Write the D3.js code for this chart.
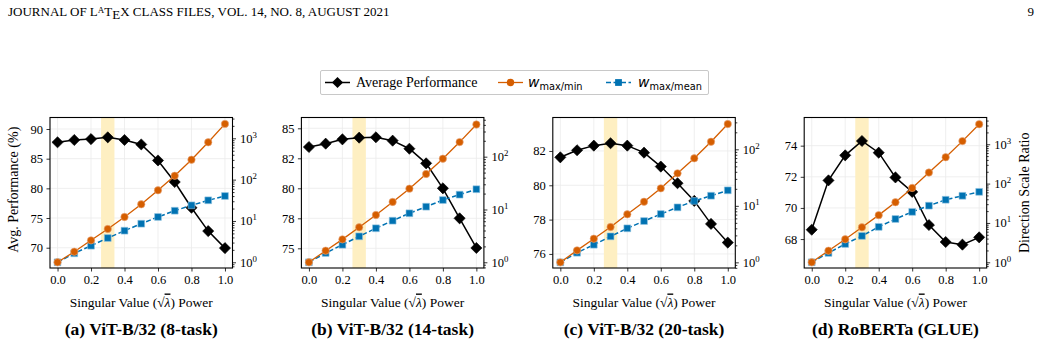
<!DOCTYPE html>
<html>
<head>
<meta charset="utf-8">
<script src="https://cdn.jsdelivr.net/npm/d3@7"></script>
<style>
  body { margin: 0; background: #fff; }
  svg { display: block; }
  text { font-family: "Liberation Serif", "Times New Roman", serif; fill: #000; }
</style>
</head>
<body>
<svg id="fig" width="1041" height="349"></svg>
<script>
// singular value power (x)
const powers = [0, 0.1, 0.2, 0.3, 0.4, 0.5, 0.6, 0.7, 0.8, 0.9, 1.0];
const xTicks = [0, 0.2, 0.4, 0.6, 0.8, 1.0];

// (a) ViT-B/32 8-task
const perf8 = [87.76, 88.15, 88.30, 88.60, 88.15, 87.40, 84.70, 81.07, 76.74, 72.80, 69.93];
const ratioMin8 = [1, 1.80, 3.40, 6.40, 12.5, 25.3, 55.2, 124, 303, 800, 2230];
const ratioMean8 = [1, 1.65, 2.52, 3.87, 5.82, 8.59, 12.5, 17.7, 23.9, 31.6, 40.2];

// (b) ViT-B/32 14-task
const perf14 = [83.44, 83.72, 84.08, 84.22, 84.25, 83.97, 83.30, 82.08, 80.00, 77.50, 75.03];
const ratioMin14 = [1, 1.66, 2.72, 4.60, 7.87, 13.9, 24.8, 47.0, 91.6, 189, 407];
const ratioMean14 = [1, 1.50, 2.15, 3.10, 4.41, 6.14, 8.47, 11.3, 15.1, 19.1, 24.2];

// (c) ViT-B/32 20-task
const perf20 = [81.63, 82.04, 82.31, 82.45, 82.31, 81.90, 81.09, 80.12, 79.09, 77.75, 76.66];
const ratioMin20 = [1, 1.63, 2.62, 4.22, 7.08, 11.8, 20.4, 37.6, 69.3, 136, 280];
const ratioMean20 = [1, 1.48, 2.05, 2.88, 4.00, 5.38, 7.16, 9.40, 12.2, 15.1, 18.8];

// (d) RoBERTa GLUE
const perfGlue = [68.60, 71.77, 73.38, 74.30, 73.55, 71.96, 71.03, 68.90, 67.81, 67.64, 68.11];
const ratioMinGlue = [1, 1.97, 3.85, 7.76, 15.8, 33.6, 77.6, 191, 468, 1202, 3236];
const ratioMeanGlue = [1, 1.73, 2.92, 4.68, 7.94, 12.6, 19.1, 27.5, 38.9, 49.0, 61.7];

// left axis ticks
const perfTicks8 = [70, 75, 80, 85, 90];
const perfTicks14 = [75, 77.5, 80, 82.5, 85];
const perfTickLabels14 = ["75", "78", "80", "82", "85"];
const perfTicks20 = [76, 78, 80, 82];
const perfTicksGlue = [68, 70, 72, 74];
// right axis decades (10^n)
const ratioDecades4 = [0, 1, 2, 3];
const ratioDecades3 = [0, 1, 2];

const titles = ["(a) ViT-B/32 (8-task)", "(b) ViT-B/32 (14-task)", "(c) ViT-B/32 (20-task)", "(d) RoBERTa (GLUE)"];

const panels = [
    {perf: perf8, rmin: ratioMin8, rmean: ratioMean8, ticks: perfTicks8, labels: perfTicks8.map(String),
     yDom: [66.58, 91.94], rDom: [-0.138, 3.503], decades: ratioDecades4},
    {perf: perf14, rmin: ratioMin14, rmean: ratioMean14, ticks: perfTicks14, labels: perfTickLabels14,
     yDom: [73.36, 85.9], rDom: [-0.108, 2.742], decades: ratioDecades3},
    {perf: perf20, rmin: ratioMin20, rmean: ratioMean20, ticks: perfTicks20, labels: perfTicks20.map(String),
     yDom: [75.18, 83.95], rDom: [-0.1, 2.563], decades: ratioDecades3},
    {perf: perfGlue, rmin: ratioMinGlue, rmean: ratioMeanGlue, ticks: perfTicksGlue, labels: perfTicksGlue.map(String),
     yDom: [66.14, 75.81], rDom: [-0.145, 3.68], decades: ratioDecades4}
];

const ORANGE = "#d55e00", BLUE = "#0072b2", BAND = "#feefc2", GRID = "#ebebeb";
const svg = d3.select("#fig");
const axTop = 117.5, axBottom = 268, axW = 182.5;

// ---- page header ----
let hdr = svg.append("text").attr("x", 8).attr("y", 16).style("font-size", "13px");
hdr.append("tspan").text("JOURNAL OF L");
hdr.append("tspan").attr("dy", "-3").style("font-size", "9px").text("A");
hdr.append("tspan").attr("dy", "3").text("T");
hdr.append("tspan").attr("dy", "3").text("E");
hdr.append("tspan").attr("dy", "-3").text("X CLASS FILES, VOL. 14, NO. 8, AUGUST 2021");
svg.append("text").attr("x", 1034).attr("y", 16).attr("text-anchor", "end").style("font-size", "13px").text("9");

// ---- panels ----
panels.forEach(function (p, i) {
    let left = 50 + i * 251.4;
    let g = svg.append("g");

    let x = d3.scaleLinear().domain([-0.045, 1.045]).range([left, left + axW]);
    let y = d3.scaleLinear().domain(p.yDom).range([axBottom, axTop]);
    let yR = d3.scaleLog().domain([Math.pow(10, p.rDom[0]), Math.pow(10, p.rDom[1])]).range([axBottom, axTop]);

    // grid
    g.append("g").selectAll("line").data(xTicks).enter().append("line")
        .attr("x1", d => x(d)).attr("x2", d => x(d)).attr("y1", axTop).attr("y2", axBottom)
        .attr("stroke", GRID).attr("stroke-width", 0.8);
    g.append("g").selectAll("line").data(p.ticks).enter().append("line")
        .attr("x1", left).attr("x2", left + axW).attr("y1", d => y(d)).attr("y2", d => y(d))
        .attr("stroke", GRID).attr("stroke-width", 0.8);

    // highlighted band
    g.append("rect").attr("x", x(0.26)).attr("width", x(0.34) - x(0.26))
        .attr("y", axTop).attr("height", axBottom - axTop).attr("fill", BAND);

    // x axis
    let xa = g.append("g").attr("transform", "translate(0," + axBottom + ")")
        .call(d3.axisBottom(x).tickValues(xTicks).tickFormat(d3.format(".1f")).tickSize(3.5).tickPadding(3.5));
    xa.attr("font-family", null).selectAll("text").style("font-size", "12.5px");

    // left axis
    let ya = g.append("g").attr("transform", "translate(" + left + ",0)")
        .call(d3.axisLeft(y).tickValues(p.ticks).tickFormat((d, j) => p.labels[j]).tickSize(3.5).tickPadding(3.5));
    ya.attr("font-family", null).selectAll("text").style("font-size", "12.5px");

    // right log axis: minor + major ticks
    let minors = [];
    for (let k = Math.floor(p.rDom[0]); k <= Math.ceil(p.rDom[1]); k++) {
        for (let m = 2; m <= 9; m++) {
            let v = m * Math.pow(10, k);
            if (Math.log10(v) > p.rDom[0] && Math.log10(v) < p.rDom[1]) minors.push(v);
        }
    }
    g.append("g").attr("transform", "translate(" + (left + axW) + ",0)")
        .call(d3.axisRight(yR).tickValues(minors).tickFormat("").tickSize(2));
    g.append("g").attr("transform", "translate(" + (left + axW) + ",0)")
        .call(d3.axisRight(yR).tickValues(p.decades.map(d => Math.pow(10, d))).tickFormat("").tickSize(3.5));
    let rl = g.append("g").selectAll("text").data(p.decades).enter().append("text")
        .attr("x", left + axW + 7.5).attr("y", d => yR(Math.pow(10, d)) + 4.5)
        .style("font-size", "12.5px");
    rl.append("tspan").text("10");
    rl.append("tspan").attr("dy", -5).style("font-size", "8.8px").text(d => d);

    g.selectAll(".domain").remove();
    g.selectAll(".tick line").attr("stroke", "#000").attr("stroke-width", 0.8);

    // lines
    let linePerf = d3.line().x((d, j) => x(powers[j])).y(d => y(d));
    let lineR = d3.line().x((d, j) => x(powers[j])).y(d => yR(d));

    g.append("path").attr("d", linePerf(p.perf)).attr("fill", "none").attr("stroke", "#000").attr("stroke-width", 1.5);
    g.append("g").selectAll("path").data(p.perf).enter().append("path")
        .attr("d", d3.symbol(d3.symbolSquare, 62)())
        .attr("transform", (d, j) => "translate(" + x(powers[j]) + "," + y(d) + ") rotate(45)")
        .attr("fill", "#000").attr("stroke", "#000").attr("stroke-width", 0.6);

    g.append("path").attr("d", lineR(p.rmean)).attr("fill", "none").attr("stroke", BLUE)
        .attr("stroke-width", 1.5).attr("stroke-dasharray", "5,2.5");
    g.append("g").selectAll("path").data(p.rmean).enter().append("path")
        .attr("d", d3.symbol(d3.symbolSquare, 46)())
        .attr("transform", (d, j) => "translate(" + x(powers[j]) + "," + yR(d) + ")")
        .attr("fill", BLUE).attr("stroke", "#8fc3e0").attr("stroke-width", 0.6);

    g.append("path").attr("d", lineR(p.rmin)).attr("fill", "none").attr("stroke", ORANGE).attr("stroke-width", 1.3);
    g.append("g").selectAll("circle").data(p.rmin).enter().append("circle")
        .attr("cx", (d, j) => x(powers[j])).attr("cy", d => yR(d)).attr("r", 3.7)
        .attr("fill", ORANGE).attr("stroke", "#eaa97f").attr("stroke-width", 0.6);

    // frame
    g.append("rect").attr("x", left).attr("y", axTop).attr("width", axW).attr("height", axBottom - axTop)
        .attr("fill", "none").attr("stroke", "#000").attr("stroke-width", 1.1);

    // x label
    let cx = left + axW / 2;
    let xl = g.append("text").attr("x", cx).attr("y", 306.5).attr("text-anchor", "middle").style("font-size", "13.5px");
    xl.append("tspan").text("Singular Value (\u221A");
    xl.append("tspan").style("font-style", "italic").style("text-decoration", "overline").text("\u03BB");
    xl.append("tspan").text(") Power");

    // panel title
    g.append("text").attr("x", cx).attr("y", 335).attr("text-anchor", "middle")
        .style("font-size", "17.5px").style("font-weight", "bold").text(titles[i]);

    if (i === 0) {
        g.append("text").attr("transform", "translate(18," + ((axTop + axBottom) / 2 - 3) + ") rotate(-90)")
            .attr("text-anchor", "middle").style("font-size", "14px").text("Avg. Performance (%)");
    }
    if (i === 3) {
        g.append("text").attr("transform", "translate(" + (left + axW + 42) + "," + ((axTop + axBottom) / 2) + ") rotate(-90)")
            .attr("text-anchor", "middle").style("font-size", "14px").text("Direction Scale Ratio");
    }
});

// ---- legend ----
let lg = svg.append("g");
lg.append("rect").attr("x", 320.5).attr("y", 70.5).attr("width", 388).attr("height", 24).attr("rx", 1.5)
    .attr("fill", "#fff").attr("stroke", "#c8c8c8").attr("stroke-width", 1);
let ly = 82.5;
lg.append("line").attr("x1", 325).attr("x2", 350).attr("y1", ly).attr("y2", ly).attr("stroke", "#000").attr("stroke-width", 1.5);
lg.append("path").attr("d", d3.symbol(d3.symbolSquare, 62)()).attr("transform", "translate(337.5," + ly + ") rotate(45)");
lg.append("text").attr("x", 356).attr("y", ly + 4.5).style("font-size", "14px").text("Average Performance");

lg.append("line").attr("x1", 498).attr("x2", 523).attr("y1", ly).attr("y2", ly).attr("stroke", ORANGE).attr("stroke-width", 1.3);
lg.append("circle").attr("cx", 510.5).attr("cy", ly).attr("r", 3.7).attr("fill", ORANGE);
let t1 = lg.append("text").attr("x", 528).attr("y", ly + 4).style("font-family", "DejaVu Sans").style("font-size", "14px");
t1.append("tspan").style("font-style", "italic").text("w");
t1.append("tspan").attr("dy", 3).style("font-size", "9.8px").text("max/min");

lg.append("line").attr("x1", 606).attr("x2", 631).attr("y1", ly).attr("y2", ly).attr("stroke", BLUE)
    .attr("stroke-width", 1.5).attr("stroke-dasharray", "5,2.5");
lg.append("path").attr("d", d3.symbol(d3.symbolSquare, 46)()).attr("transform", "translate(618.5," + ly + ")").attr("fill", BLUE);
let t2 = lg.append("text").attr("x", 638).attr("y", ly + 4).style("font-family", "DejaVu Sans").style("font-size", "14px");
t2.append("tspan").style("font-style", "italic").text("w");
t2.append("tspan").attr("dy", 3).style("font-size", "9.8px").text("max/mean");
</script>
</body>
</html>
